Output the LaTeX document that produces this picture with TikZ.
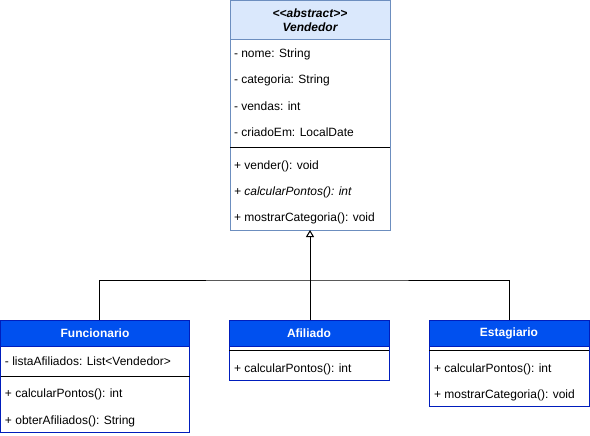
\documentclass[tikz,border=0pt]{standalone}
\usepackage{fontspec}
\setmainfont{Liberation Sans}
\usetikzlibrary{arrows.meta}
\definecolor{vfill}{HTML}{DAE8FC}
\definecolor{vline}{HTML}{6C8EBF}
\definecolor{bfill}{HTML}{0050EF}
\definecolor{bline}{HTML}{001DBC}
\begin{document}
\begin{tikzpicture}[x=1pt,y=-1pt,
  every node/.style={inner sep=0pt, outer sep=0pt},
  txt/.style={anchor=west, font=\fontsize{12}{14}\selectfont, yshift=-1.5pt},
  vbox/.style={draw=vline, line width=1pt, fill=white, anchor=north west},
  vhead/.style={draw=vline, line width=1pt, fill=vfill, anchor=north west},
  bbox/.style={draw=bline, line width=1pt, fill=white, anchor=north west},
  bhead/.style={draw=bline, line width=1pt, fill=bfill, anchor=north west},
  htxt/.style={font=\fontsize{12}{14}\selectfont\bfseries, text=white},
  sep/.style={line width=1pt, black},
  conn/.style={line width=1pt, black}
]
\useasboundingbox (0,0) rectangle (590,436);

% Vendedor
\node[vbox, minimum width=160, minimum height=229] (ven) at (230,1) {};
\node[vhead, minimum width=160, minimum height=39] (venh) at (230,1) {};
\node[align=center, font=\fontsize{12}{14}\selectfont\bfseries\itshape] (vent) at (venh.center) {<{}<abstract>{}>\\Vendedor};
\node[txt] (v1) at (234,53) {- nome: String};
\node[txt] (v2) at (234,79) {- categoria: String};
\node[txt] (v3) at (234,105) {- vendas: int};
\node[txt] (v4) at (234,131) {- criadoEm: LocalDate};
\draw[sep] (230,148) -- (390,148);
\node[txt] (v5) at (234,165) {+ vender(): void};
\node[txt, font=\fontsize{12}{14}\selectfont\itshape] (v6) at (234,191) {+ calcularPontos(): int};
\node[txt] (v7) at (234,217) {+ mostrarCategoria(): void};

% Funcionario
\node[bbox, minimum width=189, minimum height=112] (fun) at (0.5,320) {};
\node[bhead, minimum width=189, minimum height=26] (funh) at (0.5,320) {};
\node[htxt] (funt) at (funh.center) {Funcionario};
\node[txt] (f1) at (5,360) {- listaAfiliados: List<Vendedor>};
\draw[sep] (0.5,376) -- (189.5,376);
\node[txt] (f2) at (5,393) {+ calcularPontos(): int};
\node[txt] (f3) at (5,420) {+ obterAfiliados(): String};

% Afiliado
\node[bbox, minimum width=160, minimum height=60] (afi) at (229,320) {};
\node[bhead, minimum width=160, minimum height=26] (afih) at (229,320) {};
\node[htxt] (afit) at (afih.center) {Afiliado};
\draw[sep] (229,350) -- (389,350);
\node[txt] (a1) at (234,368) {+ calcularPontos(): int};

% Estagiario
\node[bbox, minimum width=160, minimum height=86] (est) at (429,320) {};
\node[bhead, minimum width=160, minimum height=26] (esth) at (429,320) {};
\node[htxt] (estt) at (esth.center) {Estagiario};
\draw[sep] (429,350) -- (589,350);
\node[txt] (e1) at (434,368) {+ calcularPontos(): int};
\node[txt] (e2) at (434,394) {+ mostrarCategoria(): void};

% Connectors
\coordinate (jn) at (310,280);
\draw[conn, -{Triangle[open, length=7pt, width=8pt]}] (afih.north -| jn) -- (ven.south -| jn);
\draw[conn] ([xshift=4.5pt]funh.north) |- (jn) -| (esth.north);
\end{tikzpicture}
\end{document}
